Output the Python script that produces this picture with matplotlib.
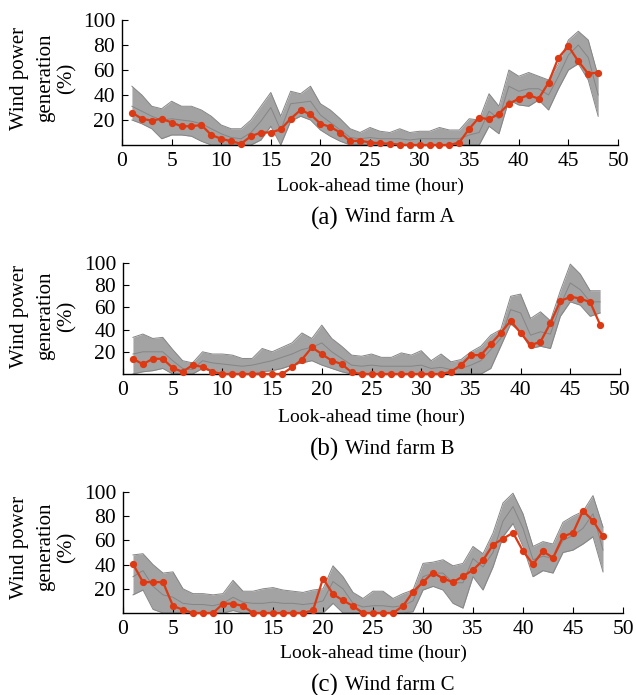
import matplotlib
matplotlib.use("Agg")
import matplotlib.pyplot as plt
import numpy as np

hours = list(range(1, 49))

# ---------------- Wind farm A ----------------
A_actual = [26, 21, 19.5, 21, 18, 15, 15, 16, 8, 5, 3, 1, 7, 10, 10, 12.5, 21, 28, 24.5, 17,
            14.5, 10, 3, 3.5, 2, 1.5, 1, 0.3, 0, 0, 0, 0, 0, 2, 13, 22, 20.5, 25, 33, 37,
            40, 37, 50, 70, 79, 67, 57, 58]
A_upper = [47, 40, 31, 29, 35, 31, 31, 28, 23, 16, 13, 13, 20, 31, 42, 23, 43, 41, 47, 33,
           28, 21, 13, 10, 14, 11, 10, 13, 10, 11, 11, 14, 12, 12, 21, 20, 41, 31, 60, 55,
           58, 55, 52, 65, 84, 91, 84, 55]
A_mid = [31, 27, 23, 20, 21, 20, 19, 17, 13, 9, 6, 5, 10, 19, 30, 12, 33, 34, 35, 24,
         18, 12, 6, 5, 6, 5, 5, 5, 4, 5, 5, 5, 5, 5, 8, 10, 27, 21, 47, 43,
         45, 45, 40, 55, 72, 80, 70, 40]
A_lower = [20, 17, 13, 5, 8, 8, 7, 3, 0, 0, 0, 0, 0, 4, 15, 0, 19, 23, 20, 12,
           7, 3, 0, 0, 0, 0, 0, 0, 0, 0, 0, 0, 0, 0, 0, 0, 15, 9, 36, 32,
           31, 36, 28, 45, 60, 65, 52, 23]

# ---------------- Wind farm B ----------------
B_actual = [13.7, 8.8, 13.7, 13.7, 5.5, 2, 8, 6.5, 2, 0, 0, 0, 0, 0, 0, 0, 6, 13, 24, 18,
            12, 9, 1.5, 0, 0, 0, 0, 0, 0, 0, 0, 0, 2, 8, 17, 17, 27, 37, 48, 37,
            26, 29, 46, 65.6, 69.6, 68, 64.7, 44.4]
B_upper = [33, 36, 32, 33, 22, 12, 10, 20, 18, 18, 17, 14, 14, 23, 20, 24, 28, 37, 32, 44,
           32, 25, 17, 16, 18, 15, 15, 19, 17, 21, 12, 18, 11, 13, 20, 25, 35, 40, 70, 72,
           50, 56, 48, 75, 99, 90, 75, 75]
B_mid = [18, 20, 20, 20, 12, 5, 4, 12, 10, 9, 8, 7, 8, 10, 12, 15, 18, 22, 24, 28,
         20, 14, 8, 7, 8, 7, 7, 7, 7, 8, 5, 6, 4, 5, 8, 12, 22, 32, 58, 55,
         35, 38, 36, 62, 82, 76, 65, 65]
B_lower = [0, 2, 3, 5, 0, 0, 0, 5, 2, 0, 0, 0, 0, 2, 3, 5, 8, 10, 12, 8,
           5, 2, 0, 0, 0, 0, 0, 0, 0, 0, 0, 0, 0, 0, 0, 0, 5, 25, 45, 38,
           23, 25, 23, 52, 65, 62, 52, 55]

# ---------------- Wind farm C ----------------
C_actual = [40.5, 25.5, 25.5, 25.5, 5.8, 2.7, 0, 0, 0, 7.7, 7.7, 5.8, 0, 0, 0, 0, 0, 0, 2.2, 28.5,
            15.6, 10.4, 5.8, 0, 0, 0, 0, 5.8, 17.5, 25.5, 33.4, 28.5, 25.5, 30.4, 35.6, 43.6, 56.4, 61.4, 66.3, 51.2,
            40.3, 51.2, 45.5, 63.3, 66.3, 84.4, 76.2, 63.3]
C_upper = [48, 49, 40, 33, 34, 20, 16, 16, 15, 16, 27, 18, 18, 20, 21, 19, 18, 17, 19, 20,
           39, 30, 17, 12, 18, 18, 12, 16, 19, 41, 42, 44, 39, 41, 55, 49, 66, 91, 99, 82,
           55, 59, 57, 75, 80, 84, 97, 71]
C_mid = [30, 35, 22, 15, 13, 8, 7, 7, 6, 8, 13, 9, 8, 8, 9, 8, 8, 7, 8, 10,
         26, 20, 8, 5, 6, 6, 5, 6, 10, 30, 33, 33, 25, 25, 45, 38, 50, 76, 88, 70,
         44, 47, 45, 60, 64, 70, 82, 52]
C_lower = [15, 19, 3, 0, 0, 0, 0, 0, 0, 0, 2, 0, 0, 0, 0, 0, 0, 0, 0, 0,
           8, 0, 0, 0, 0, 0, 0, 0, 1, 19, 22, 19, 8, 4, 30, 19, 38, 63, 74, 55,
           30, 35, 33, 50, 52, 57, 63, 34]

panel_letters = ["(a)", "(b)", "(c)"]
panel_names = ["Wind farm A", "Wind farm B", "Wind farm C"]
x_ticks = [0, 5, 10, 15, 20, 25, 30, 35, 40, 45, 50]
y_ticks = [20, 40, 60, 80, 100]
xlabel_text = "Look-ahead time (hour)"
ylabel_lines = ["Wind power", "generation", "(%)"]

panels = [
    (A_actual, A_upper, A_mid, A_lower),
    (B_actual, B_upper, B_mid, B_lower),
    (C_actual, C_upper, C_mid, C_lower),
]

W, H = 636, 695
plt.rcParams['font.family'] = ['Liberation Serif', 'DejaVu Serif']
fig = plt.figure(figsize=(W / 100, H / 100), dpi=100)

# axes boxes in pixels: (x0, x50, ytop, ybottom)
boxes = [(122, 618, 20, 145), (123, 620, 263, 374), (123, 623, 492, 613)]
xlabel_y = [186, 417, 653]
caption_y = [218, 449, 685]
ylabel_cy = [78, 316, 547]

gray_fill = '#a3a3a3'
gray_line = '#858585'
red = '#dc3a14'

for i, (actual, upper, mid, lower) in enumerate(panels):
    x0, x1, yt, yb = boxes[i]
    ax = fig.add_axes([x0 / W, 1 - yb / H, (x1 - x0) / W, (yb - yt) / H])
    ax.fill_between(hours, lower, upper, color=gray_fill, lw=0, zorder=1)
    for s in (upper, mid, lower):
        ax.plot(hours, s, color=gray_line, lw=0.7, zorder=2)
    ax.plot(hours, actual, color=red, lw=1.6, marker='o', ms=4.2,
            zorder=5, clip_on=False)
    ax.set_xlim(0, 50)
    ax.set_ylim(0, 100)
    ax.set_xticks(x_ticks)
    ax.set_yticks(y_ticks)
    ax.tick_params(direction='in', length=4, width=0.8, labelsize=15.5, pad=5)
    for side in ('top', 'right'):
        ax.spines[side].set_visible(False)
    for side in ('left', 'bottom'):
        ax.spines[side].set_linewidth(1.0)
    ax.patch.set_alpha(0)

    cx = (x0 + x1) / 2 / W
    fig.text(cx, 1 - xlabel_y[i] / H, xlabel_text, ha='center', va='center', fontsize=14)
    fig.text(339 / W, 1 - caption_y[i] / H, panel_letters[i], ha='right', va='center', fontsize=18)
    fig.text(345 / W, 1 - caption_y[i] / H, panel_names[i], ha='left', va='center', fontsize=15)
    for xpos, txt in zip((20, 46, 67), ylabel_lines):
        fig.text(xpos / W, 1 - ylabel_cy[i] / H, txt, rotation=90, ha='center', va='center',
                 fontsize=15)

fig.savefig("out.png", dpi=100)
